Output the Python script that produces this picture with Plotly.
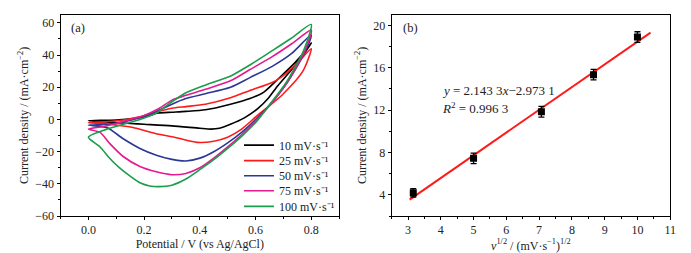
import plotly.graph_objects as go

# ---------------- Panel (a): CV curves ----------------
labels = ["10 mV·s⁻¹", "25 mV·s⁻¹", "50 mV·s⁻¹", "75 mV·s⁻¹", "100 mV·s⁻¹"]
colors = ["#000000", "#ff1a1a", "#2b3896", "#e6198f", "#1a9e4b"]

v10_pot = [0, 0.1, 0.2, 0.25, 0.3, 0.35, 0.42, 0.51, 0.58, 0.63, 0.68, 0.74, 0.79, 0.8,
           0.775, 0.73, 0.68, 0.645, 0.61, 0.56, 0.51, 0.47, 0.44, 0.4, 0.3, 0.2, 0.15, 0.1, 0]
v10_cur = [-0.8, -0.3, 1.5, 4.0, 4.5, 5.0, 6.0, 9.5, 13.0, 17.0, 25.0, 35.0, 45.0, 47.5,
           41, 31, 21, 13, 7, 1, -3, -5.5, -6, -5.5, -4, -3, -2.5, -2, -0.8]

v25_pot = [0, 0.1, 0.18, 0.24, 0.3, 0.35, 0.42, 0.51, 0.58, 0.66, 0.69, 0.75, 0.8,
           0.77, 0.7, 0.65, 0.61, 0.55, 0.5, 0.45, 0.39, 0.32, 0.24, 0.16, 0.1, 0.05, 0]
v25_cur = [-2, -1, 1.5, 4.5, 7, 8, 9.5, 13.5, 18, 23, 26, 35, 44,
           30, 16, 8.5, 3, -6, -11, -13.5, -14.2, -11.5, -8.7, -5, -3.5, -2.5, -2]

v50_pot = [0, 0.07, 0.125, 0.185, 0.24, 0.3, 0.35, 0.42, 0.51, 0.58, 0.66, 0.73, 0.8,
           0.775, 0.71, 0.65, 0.6, 0.55, 0.5, 0.45, 0.4, 0.35, 0.3, 0.244, 0.185, 0.125, 0.066, 0]
v50_cur = [-3.5, -3, -1.5, 1, 4.5, 9.5, 13, 16, 20, 26, 33, 41, 52.5,
           41, 22, 9, 0, -8, -14.5, -20, -24, -25.8, -24.8, -22.2, -18, -12, -5, -3.5]

v75_pot = [0, 0.05, 0.1, 0.15, 0.2, 0.25, 0.3, 0.35, 0.42, 0.51, 0.58, 0.66, 0.73, 0.8,
           0.775, 0.71, 0.65, 0.6, 0.55, 0.5, 0.45, 0.4, 0.35, 0.3, 0.244, 0.185, 0.125, 0.077, 0.042, 0]
v75_cur = [-6, -4.5, -2.5, 0, 2.5, 6.5, 12, 15, 18.7, 24, 31, 39, 47, 55.5,
           42, 22, 8.5, -1, -9.5, -17, -24, -30, -33.5, -34.3, -32.5, -29.2, -23, -15, -8, -6]

v100_pot = [0, 0.066, 0.125, 0.185, 0.244, 0.3, 0.352, 0.423, 0.513, 0.584, 0.656, 0.727, 0.8,
            0.773, 0.71, 0.65, 0.6, 0.55, 0.5, 0.45, 0.4, 0.35, 0.3, 0.256, 0.22, 0.185,
            0.15, 0.113, 0.077, 0.042, 0]
v100_cur = [-11, -6, -3, 0, 4, 11, 16.7, 21.6, 27.2, 34.3, 42.3, 50.3, 59,
            43, 23, 9, -2, -10.5, -18, -25, -31.2, -37, -40.8, -41.7, -41.3, -39.3,
            -35.2, -30.2, -24.2, -17.1, -11]

cv_pots = [v10_pot, v25_pot, v50_pot, v75_pot, v100_pot]
cv_curs = [v10_cur, v25_cur, v50_cur, v75_cur, v100_cur]

# ---------------- Panel (b): peak current vs sqrt(scan rate) ----------------
sqrt_rate = [3.16, 5.0, 7.07, 8.66, 10.0]
peak_cur = [4.2, 7.45, 11.85, 15.35, 18.9]
peak_err = [0.4, 0.5, 0.5, 0.5, 0.5]
fit_x = [3.05, 10.4]
fit_y = [3.56, 19.32]

FONT = "Liberation Serif, Times New Roman, serif"
fig = go.Figure()

legend_ids = ["legend", "legend2", "legend3", "legend4", "legend5"]
for name, col, px_, cy, lg in zip(labels, colors, cv_pots, cv_curs, legend_ids):
    fig.add_trace(go.Scatter(x=px_, y=cy, mode="lines", name=name, legend=lg,
                             line=dict(color=col, width=1.6, shape="spline", smoothing=0.7),
                             xaxis="x", yaxis="y"))

fig.add_trace(go.Scatter(x=fit_x, y=fit_y, mode="lines", showlegend=False,
                         line=dict(color="#ff1a1a", width=2), xaxis="x2", yaxis="y2"))
fig.add_trace(go.Scatter(x=sqrt_rate, y=peak_cur, mode="markers", showlegend=False,
                         marker=dict(symbol="square", size=7, color="black"),
                         error_y=dict(type="data", array=peak_err, color="black",
                                      thickness=1.3, width=3),
                         xaxis="x2", yaxis="y2"))

axis_common = dict(showline=True, linecolor="black", linewidth=1, mirror=True,
                   ticks="outside", ticklen=3, tickwidth=1, tickcolor="black",
                   showgrid=False, zeroline=False,
                   tickfont=dict(family=FONT, size=12, color="#222"))
TITLE_FONT = dict(family=FONT, size=12, color="#222")

legend_rows = [141, 157, 172.5, 188, 204]
legends = {}
for lg, yc in zip(legend_ids, legend_rows):
    legends[lg] = dict(x=233/691, y=1-yc/253, xanchor="left", yanchor="middle",
                       bgcolor="rgba(0,0,0,0)", borderwidth=0,
                       font=dict(family=FONT, size=12, color="#222"), itemwidth=30)

fig.update_layout(
    width=691, height=253,
    margin=dict(l=0, r=0, t=0, b=0),
    paper_bgcolor="white", plot_bgcolor="white",
    font=dict(family=FONT, size=12, color="#222"),
    xaxis=dict(domain=[53/691, 334/691], range=[-0.1, 0.9], tick0=0, dtick=0.2,
               tickformat=".1f", anchor="y",
               minor=dict(dtick=0.1, ticks="outside", ticklen=2, tickcolor="black"),
               title=dict(text="Potential / V (vs Ag/AgCl)", font=TITLE_FONT, standoff=1),
               **axis_common),
    yaxis=dict(domain=[1-214/253, 1-7/253], range=[-60, 65], tick0=0, dtick=20, anchor="x",
               minor=dict(dtick=10, ticks="outside", ticklen=2, tickcolor="black"),
               title=dict(text="Current density / (mA·cm<sup>−2</sup>)",
                          font=TITLE_FONT, standoff=4),
               **axis_common),
    xaxis2=dict(domain=[387/691, 668/691], range=[2.5, 11], tick0=0, dtick=1, anchor="y2",
                minor=dict(dtick=0.5, ticks="outside", ticklen=2, tickcolor="black"),
                title=dict(text="<i>v</i><sup>1/2</sup> / (mV·s<sup>−1</sup>)<sup>1/2</sup>",
                           font=TITLE_FONT, standoff=0),
                **axis_common),
    yaxis2=dict(domain=[1-214/253, 1-7/253], range=[2, 21], tick0=0, dtick=4, anchor="x2",
                minor=dict(dtick=2, ticks="outside", ticklen=2, tickcolor="black"),
                title=dict(text="Current density / (mA·cm<sup>−2</sup>)",
                           font=TITLE_FONT, standoff=4),
                **axis_common),
    annotations=[
        dict(text="(a)", x=62/691, y=1-21/253, xref="paper", yref="paper",
             xanchor="left", yanchor="middle", showarrow=False, font=dict(family=FONT, size=12.5)),
        dict(text="(b)", x=396/691, y=1-21/253, xref="paper", yref="paper",
             xanchor="left", yanchor="middle", showarrow=False, font=dict(family=FONT, size=12.5)),
        dict(text="<i>y</i> = 2.143 3<i>x</i>−2.973 1", x=436/691, y=1-85/253,
             xref="paper", yref="paper", xanchor="left", yanchor="middle",
             showarrow=False, font=dict(family=FONT, size=13)),
        dict(text="<i>R</i><sup>2</sup> = 0.996 3", x=436/691, y=1-103/253,
             xref="paper", yref="paper", xanchor="left", yanchor="middle",
             showarrow=False, font=dict(family=FONT, size=13)),
    ],
    **legends,
)

fig.write_html("out.html")
